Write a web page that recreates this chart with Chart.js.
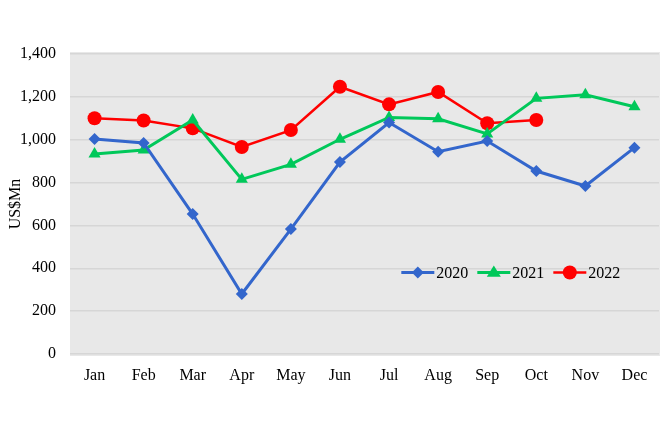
<!DOCTYPE html>
<html>
<head>
<meta charset="utf-8">
<script src="https://cdn.jsdelivr.net/npm/chart.js@4.4.0/dist/chart.umd.min.js"></script>
<style>
html,body{margin:0;padding:0;background:#ffffff;}
#wrap{width:660px;height:440px;position:relative;}
</style>
</head>
<body>
<div id="wrap"><canvas id="c" width="660" height="440"></canvas></div>
<script>
const months = ['Jan','Feb','Mar','Apr','May','Jun','Jul','Aug','Sep','Oct','Nov','Dec'];
const series2020 = [1003, 985, 653, 280, 583, 896, 1080, 944, 994, 854, 784, 963];
const series2021 = [933, 952, 1092, 815, 885, 1002, 1104, 1098, 1027, 1193, 1210, 1154];
const series2022 = [1100, 1090, 1053, 966, 1045, 1247, 1165, 1223, 1077, 1092];
const yTicks = [0, 200, 400, 600, 800, 1000, 1200, 1400];
const yTitle = 'US$Mn';

const FONT = "'Liberation Serif', 'Times New Roman', serif";

const bgPlugin = {
  id: 'plotBg',
  beforeDraw(chart) {
    const {ctx, chartArea} = chart;
    ctx.save();
    ctx.fillStyle = '#e8e8e8';
    ctx.fillRect(chartArea.left, chartArea.top - 2, chart.width - chartArea.left, chartArea.bottom - chartArea.top + 4);
    ctx.restore();
  }
};

const legendPlugin = {
  id: 'inLegend',
  afterDraw(chart) {
    const {ctx} = chart;
    const y = chart.scales.y.getPixelForValue(380);
    let x = chart.scales.x.getPixelForValue(6.25);
    ctx.save();
    ctx.font = '16px ' + FONT;
    ctx.textBaseline = 'middle';
    chart.data.datasets.forEach(ds => {
      ctx.strokeStyle = ds.borderColor;
      ctx.lineWidth = ds.borderWidth;
      ctx.beginPath();
      ctx.moveTo(x, y);
      ctx.lineTo(x + 33, y);
      ctx.stroke();
      const cx = x + 16.5;
      ctx.fillStyle = ds.borderColor;
      ctx.beginPath();
      if (ds.pointStyle === 'rectRot') {
        const r = 6;
        ctx.moveTo(cx, y - r); ctx.lineTo(cx + r, y); ctx.lineTo(cx, y + r); ctx.lineTo(cx - r, y);
      } else if (ds.pointStyle === 'triangle') {
        const r = 7;
        ctx.moveTo(cx, y - r); ctx.lineTo(cx + r, y + r * 0.6); ctx.lineTo(cx - r, y + r * 0.6);
      } else {
        ctx.arc(cx, y, 7, 0, Math.PI * 2);
      }
      ctx.closePath();
      ctx.fill();
      ctx.fillStyle = '#000';
      ctx.textAlign = 'left';
      ctx.fillText(ds.label, x + 35, y + 1);
      x += 35 + ctx.measureText(ds.label).width + 9;
    });
    ctx.restore();
  }
};

new Chart(document.getElementById('c'), {
  type: 'line',
  data: {
    labels: months,
    datasets: [
      {label: '2020', data: series2020, borderColor: '#3366cc', backgroundColor: '#3366cc', borderWidth: 3,
       pointStyle: 'rectRot', pointRadius: 6, pointHoverRadius: 6, pointBorderWidth: 0},
      {label: '2021', data: series2021, borderColor: '#00c85a', backgroundColor: '#00c85a', borderWidth: 3,
       pointStyle: 'triangle', pointRadius: 7, pointHoverRadius: 7, pointBorderWidth: 0},
      {label: '2022', data: series2022, borderColor: '#ff0000', backgroundColor: '#ff0000', borderWidth: 2.5,
       pointStyle: 'circle', pointRadius: 7, pointHoverRadius: 7, pointBorderWidth: 0}
    ]
  },
  options: {
    responsive: false,
    animation: false,
    layout: {autoPadding: false, padding: {top: 54, right: 1, left: 0, bottom: 0}},
    plugins: {legend: {display: false}, tooltip: {enabled: false}},
    scales: {
      x: {
        offset: true,
        grid: {display: false, drawTicks: false, offset: true},
        border: {display: false},
        ticks: {color: '#000', font: {family: FONT, size: 16}, padding: 12, maxRotation: 0, autoSkip: false},
        afterFit(s) { s.height = 86; s.paddingRight = 0; s.paddingLeft = 0; }
      },
      y: {
        min: 0, max: 1400,
        afterBuildTicks(s) { s.ticks = yTicks.map(v => ({value: v})); },
        grid: {color: '#d6d6d6', lineWidth: 1.5, drawTicks: false},
        border: {display: false},
        ticks: {color: '#000', font: {family: FONT, size: 16}, padding: 14,
                callback: v => v.toLocaleString('en-US')},
        title: {display: true, text: yTitle, color: '#000', font: {family: FONT, size: 16}, padding: {top: 6, bottom: 0}},
        afterFit(s) { s.width = 70; }
      }
    }
  },
  plugins: [bgPlugin, legendPlugin]
});
</script>
</body>
</html>
